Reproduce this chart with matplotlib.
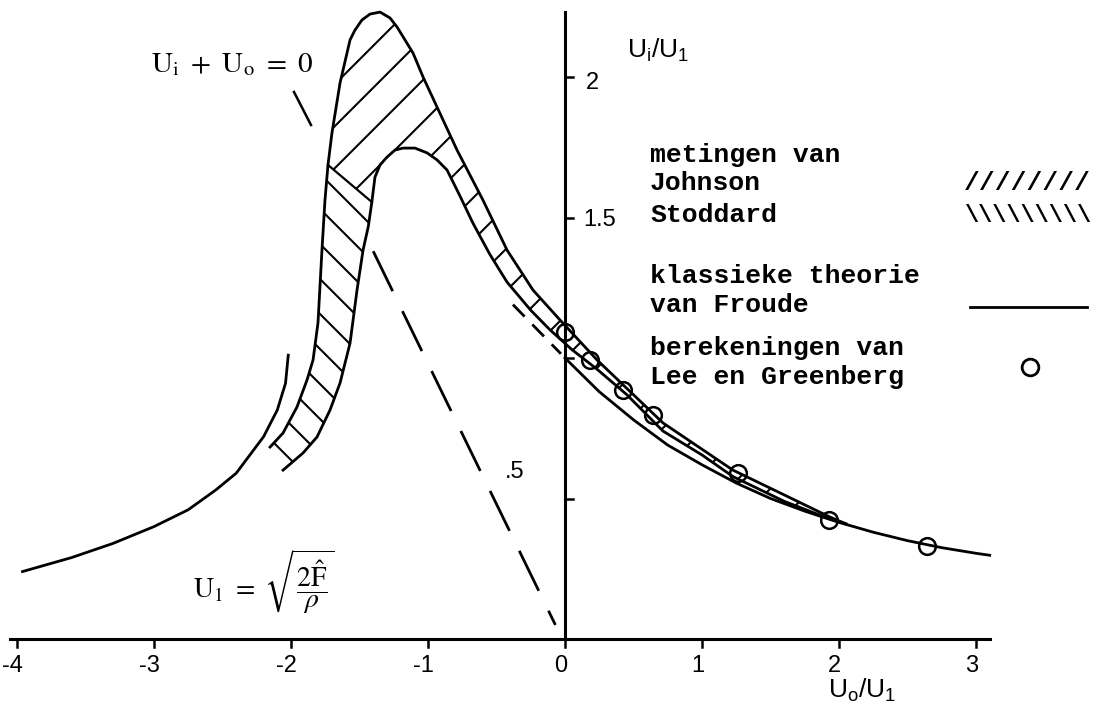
import numpy as np
import matplotlib.pyplot as plt
from matplotlib.patches import Polygon

plt.rcParams["lines.scale_dashes"] = False
plt.rcParams["mathtext.fontset"] = "stix"

# classical Froude momentum theory, U_o >= 0 (solid) and short dashed extension
froude_x = [0.0, 0.25, 0.5, 0.75, 1.0, 1.25, 1.5, 1.75, 2.0, 2.25, 2.5, 2.75, 3.0, 3.1]
froude_y = [1.0, 0.88, 0.78, 0.69, 0.62, 0.555, 0.50, 0.455, 0.415, 0.38, 0.35, 0.325, 0.305, 0.298]
froude_ext_x = [-0.38, -0.2, -0.03]
froude_ext_y = [1.19, 1.10, 1.015]

# windmill branch on the left
wind_x = [-3.96, -3.6, -3.3, -3.0, -2.75, -2.55, -2.4, -2.3, -2.2, -2.1, -2.04, -2.02]
wind_y = [0.24, 0.29, 0.34, 0.40, 0.46, 0.53, 0.59, 0.655, 0.72, 0.815, 0.91, 1.01]

# line U_i + U_o = 0
ideal_x = [-1.40, -0.07]
ideal_y = [1.38, 0.05]

# measured band: outer and inner boundaries
outer_x = [-2.153, -2.058, -1.956, -1.883, -1.839, -1.803, -1.774, -1.752, -1.730,
           -1.701, -1.642, -1.569, -1.533, -1.482, -1.423, -1.350, -1.277, -1.226,
           -1.109, -1.036, -0.934, -0.788, -0.599, -0.423, -0.234, -0.036, 0.234,
           0.715, 1.226, 1.934, 2.05]
outer_y = [0.683, 0.733, 0.826, 0.922, 0.993, 1.125, 1.384, 1.562, 1.687,
           1.801, 1.979, 2.132, 2.167, 2.203, 2.224, 2.231, 2.210, 2.178,
           2.085, 2.000, 1.893, 1.740, 1.562, 1.384, 1.242, 1.135, 0.993,
           0.769, 0.601, 0.434, 0.41]
inner_x = [-2.058, -1.912, -1.810, -1.715, -1.642, -1.569, -1.518, -1.474, -1.435,
           -1.41, -1.387, -1.350, -1.299, -1.241, -1.182, -1.095, -1.007, -0.934,
           -0.861, -0.77, -0.672, -0.55, -0.423, -0.25, -0.109, 0.05, 0.234, 0.45,
           0.715, 1.0, 1.226, 1.6, 1.934, 2.05]
inner_y = [0.601, 0.662, 0.719, 0.815, 0.911, 1.053, 1.242, 1.384, 1.47,
           1.555, 1.644, 1.687, 1.715, 1.740, 1.747, 1.747, 1.730, 1.705,
           1.669, 1.58, 1.48, 1.37, 1.27, 1.17, 1.10, 1.03, 0.96, 0.87,
           0.74, 0.655, 0.578, 0.49, 0.427, 0.41]
# split between Stoddard (lower left) and Johnson (upper) parts
split_outer = 8   # index in outer list
split_inner = 9   # index in inner list

# Lee & Greenberg calculations
lee_x = [0.0, 0.18, 0.42, 0.64, 1.26, 1.93, 2.64]
lee_y = [1.093, 0.993, 0.886, 0.797, 0.591, 0.423, 0.331]

x_ticks = [-4, -3, -2, -1, 0, 1, 2, 3]
x_tick_labels = ["-4", "-3", "-2", "-1", "0", "1", "2", "3"]
y_ticks = [0.5, 1.0, 1.5, 2.0]

W, H = 1094, 704
fig = plt.figure(figsize=(W / 100, H / 100), dpi=100)
ax = fig.add_axes([0, 0, 1, 1])
ax.set_xlim(-565 / 137, (W - 565) / 137)
ax.set_ylim(-(H - 639) / 281, 639 / 281)
ax.axis("off")


def fr(px, py):
    return px / W, 1 - py / H


LW = 2.0
mono = ["Liberation Mono", "DejaVu Sans Mono"]
sans = ["Liberation Sans Narrow", "Liberation Sans", "DejaVu Sans"]

# axes
ax.plot([-4.05, 3.1], [0, 0], color="black", lw=2.2)
ax.plot([0, 0], [0, 2.23], color="black", lw=2.2)
dy = 8 / 281
dx = 8 / 137
for t, lab in zip(x_ticks, x_tick_labels):
    ax.plot([t, t], [0, -dy], color="black", lw=1.8)
    ax.text(t - 0.03, -0.095, lab, ha="center", va="center", fontsize=17, family=sans)
for t in y_ticks:
    ax.plot([0, dx], [t, t], color="black", lw=1.8)
ax.text(*fr(592, 83), "2", transform=ax.transAxes, ha="center", va="center", fontsize=17, family=sans)
ax.text(*fr(600, 220), "1.5", transform=ax.transAxes, ha="center", va="center", fontsize=17, family=sans)
ax.text(*fr(515, 472), ".5", transform=ax.transAxes, ha="center", va="center", fontsize=17, family=sans)
ax.text(*fr(658, 50), r"$\mathregular{U_{i}/U_{1}}$", transform=ax.transAxes,
        ha="center", va="center", fontsize=19, family=sans)
ax.text(*fr(862, 690), r"$\mathregular{U_{o}/U_{1}}$", transform=ax.transAxes,
        ha="center", va="center", fontsize=19, family=sans)

# curves
ax.plot(froude_x, froude_y, color="black", lw=LW)
ax.plot(froude_ext_x, froude_ext_y, color="black", lw=LW, dashes=(12, 8))
ax.plot(wind_x, wind_y, color="black", lw=LW)
ax.plot(ideal_x, ideal_y, color="black", lw=LW, dashes=(32, 16))
ax.plot(outer_x, outer_y, color="black", lw=LW)
ax.plot(inner_x, inner_y, color="black", lw=LW)
ax.plot([outer_x[split_outer], inner_x[split_inner]],
        [outer_y[split_outer], inner_y[split_inner]], color="black", lw=1.6)

# hatched regions
stod = list(zip(outer_x[:split_outer + 1], outer_y[:split_outer + 1])) + \
    list(zip(inner_x[:split_inner + 1], inner_y[:split_inner + 1]))[::-1]
john = list(zip(outer_x[split_outer:], outer_y[split_outer:])) + \
    list(zip(inner_x[split_inner:], inner_y[split_inner:]))[::-1]


def hatch(points, step, sign, phase=0):
    patch = Polygon(points, closed=True, fill=False, edgecolor="none")
    ax.add_patch(patch)
    inv = ax.transData.inverted()
    for c in np.arange(-1400 + phase, 1800, step):
        a = inv.transform((0, c))
        b = inv.transform((1200, c + sign * 1200))
        ln, = ax.plot([a[0], b[0]], [a[1], b[1]], color="black", lw=1.5)
        ln.set_clip_path(patch)


hatch(stod, 35, -1, 10)
hatch(john, 42, 1, 5)

ax.plot(lee_x, lee_y, "o", ms=12, mfc="none", mec="black", mew=1.8)

# annotations
ax.text(*fr(232, 64), r"$\mathrm{U_i\ +\ U_o\ =\ 0}$", transform=ax.transAxes,
        ha="center", va="center", fontsize=21)
ax.plot([294 / W, 311 / W], [1 - 92 / H, 1 - 125 / H], transform=ax.transAxes, color="black", lw=1.8)
ax.text(*fr(264, 582), r"$\mathrm{U_1}\ =\ \sqrt{\dfrac{2\hat{\mathrm{F}}}{\rho}}$", transform=ax.transAxes,
        ha="center", va="center", fontsize=20)

# legend
legend_rows = [("metingen van", 155), ("Johnson", 183), ("Stoddard", 215),
               ("klassieke theorie", 276), ("van Froude", 305),
               ("berekeningen van", 348), ("Lee en Greenberg", 377)]
for txt, py in legend_rows:
    ax.text(*fr(650, py), txt, transform=ax.transAxes, ha="left", va="center",
            fontsize=19, family=mono, fontweight="bold")
ax.text(*fr(1027, 183), "////////", transform=ax.transAxes, ha="center", va="center",
        fontsize=19, family=mono, fontweight="bold")
ax.text(*fr(1029, 215), "\\\\\\\\\\\\\\\\\\", transform=ax.transAxes, ha="center", va="center",
        fontsize=17, family=mono, fontweight="bold")
ax.plot([970 / W, 1087 / W], [1 - 307 / H, 1 - 307 / H], transform=ax.transAxes, color="black", lw=2)
ax.plot([1030 / W], [1 - 367 / H], "o", transform=ax.transAxes, ms=12, mfc="none", mec="black", mew=2)

fig.savefig("out.png", dpi=100, facecolor="white")
